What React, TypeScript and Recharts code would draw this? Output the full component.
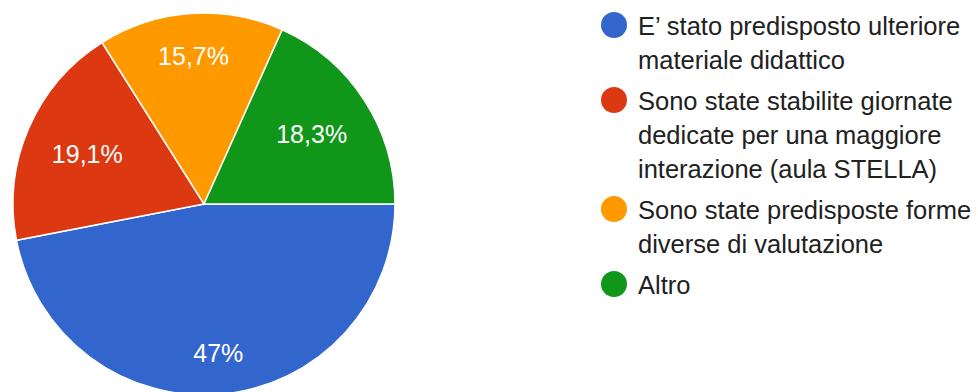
import { Cell, Legend, Pie, PieChart } from "recharts";

const CATEGORIES = [
  "E’ stato predisposto ulteriore materiale didattico",
  "Sono state stabilite giornate dedicate per una maggiore interazione (aula STELLA)",
  "Sono state predisposte forme diverse di valutazione",
  "Altro",
];
const VALUES = [47, 19.1, 15.7, 18.3];
const COLORS = ["#3366cc", "#dc3912", "#ff9900", "#109618"];

const FONT = '"Liberation Sans", Arial, sans-serif';
const LABEL_SIZE = 25;
const RADIAN = Math.PI / 180;

const data = CATEGORIES.map((name, i) => ({ name, value: VALUES[i] }));

function fmt(v: number): string {
  return String(v).replace(".", ",") + "%";
}

let ctx: CanvasRenderingContext2D | null = null;
function textWidth(s: string): number {
  if (!ctx) ctx = document.createElement("canvas").getContext("2d");
  if (!ctx) return s.length * LABEL_SIZE * 0.56;
  ctx.font = `${LABEL_SIZE}px ${FONT}`;
  return ctx.measureText(s).width;
}

// push the label outward as far as its box still fits inside the slice rim
function SliceLabel(props: any) {
  const { cx, cy, midAngle, outerRadius, value } = props;
  const text = fmt(value);
  const hw = textWidth(text) / 2;
  const hh = LABEL_SIZE * 0.375;
  const limit = outerRadius * 0.856;
  const ux = Math.cos(-midAngle * RADIAN);
  const uy = Math.sin(-midAngle * RADIAN);
  let lo = 0;
  let hi = outerRadius;
  for (let k = 0; k < 40; k++) {
    const r = (lo + hi) / 2;
    const d = Math.hypot(Math.abs(ux * r) + hw, Math.abs(uy * r) + hh);
    if (d <= limit) lo = r;
    else hi = r;
  }
  return (
    <text
      x={cx + ux * lo}
      y={cy + uy * lo}
      fill="#ffffff"
      textAnchor="middle"
      dominantBaseline="central"
      style={{ fontFamily: FONT, fontSize: LABEL_SIZE }}
    >
      {text}
    </text>
  );
}

function LegendList() {
  return (
    <div style={{ fontFamily: FONT, fontSize: 25.5, lineHeight: "34px", color: "#212121" }}>
      {data.map((d, i) => (
        <div key={d.name} style={{ display: "flex", alignItems: "flex-start", marginBottom: 7 }}>
          <span
            style={{
              flex: "none",
              width: 26,
              height: 26,
              borderRadius: "50%",
              background: COLORS[i],
              marginTop: 3.5,
              marginRight: 11,
            }}
          />
          <span style={{ width: 340 }}>{d.name}</span>
        </div>
      ))}
    </div>
  );
}

export default function App() {
  return (
    <div style={{ position: "absolute", left: 0, top: 0, width: 978, height: 392, background: "#fff" }}>
      <PieChart width={978} height={392} margin={{ top: 0, right: 0, bottom: 0, left: 0 }}>
        <Pie
          data={data}
          dataKey="value"
          nameKey="name"
          cx={204}
          cy={204}
          outerRadius={191}
          startAngle={0}
          endAngle={-360}
          stroke="#ffffff"
          strokeWidth={1.5}
          label={SliceLabel}
          labelLine={false}
          isAnimationActive={false}
        >
          {data.map((d, i) => (
            <Cell key={d.name} fill={COLORS[i]} />
          ))}
        </Pie>
        <Legend
          layout="vertical"
          verticalAlign="top"
          align="right"
          content={<LegendList />}
          wrapperStyle={{ top: 8.5, left: 601, width: 377, right: "auto" }}
        />
      </PieChart>
    </div>
  );
}
